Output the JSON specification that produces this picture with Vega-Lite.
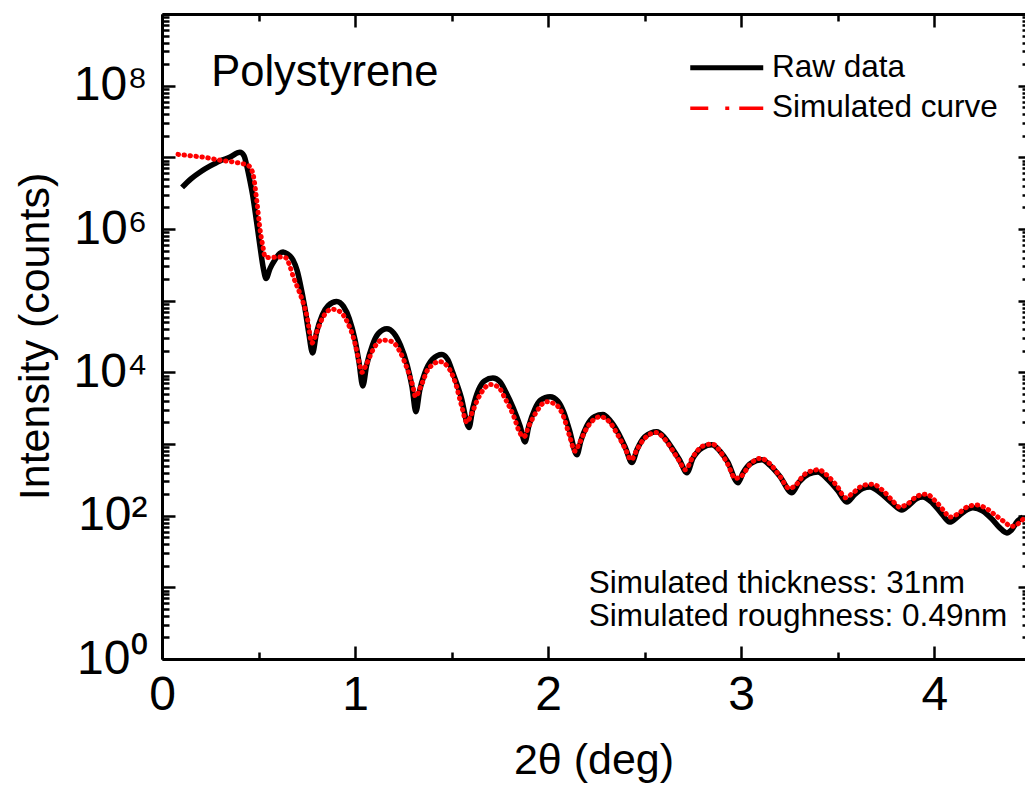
{
  "$schema": "https://vega.github.io/schema/vega-lite/v6.json",
  "width": 863,
  "height": 645,
  "autosize": {"type": "none"},
  "padding": {"left": 162, "top": 14, "right": 0, "bottom": 126},
  "background": "#ffffff",
  "config": {"font": "Liberation Sans", "view": {"stroke": null}},
  "datasets": {
    "curves": [
      {"series": "Raw data", "two_theta": 0.104, "intensity": 3800000},
      {"series": "Raw data", "two_theta": 0.15, "intensity": 5010000},
      {"series": "Raw data", "two_theta": 0.2, "intensity": 6310000},
      {"series": "Raw data", "two_theta": 0.25, "intensity": 7590000},
      {"series": "Raw data", "two_theta": 0.3, "intensity": 8910000},
      {"series": "Raw data", "two_theta": 0.35, "intensity": 10000000},
      {"series": "Raw data", "two_theta": 0.404, "intensity": 11750000},
      {"series": "Raw data", "two_theta": 0.425, "intensity": 10470000},
      {"series": "Raw data", "two_theta": 0.44, "intensity": 7410000},
      {"series": "Raw data", "two_theta": 0.455, "intensity": 4790000},
      {"series": "Raw data", "two_theta": 0.471, "intensity": 2820000},
      {"series": "Raw data", "two_theta": 0.49, "intensity": 1260000},
      {"series": "Raw data", "two_theta": 0.508, "intensity": 562000},
      {"series": "Raw data", "two_theta": 0.525, "intensity": 282000},
      {"series": "Raw data", "two_theta": 0.539, "intensity": 204000},
      {"series": "Raw data", "two_theta": 0.56, "intensity": 282000},
      {"series": "Raw data", "two_theta": 0.585, "intensity": 372000},
      {"series": "Raw data", "two_theta": 0.61, "intensity": 457000},
      {"series": "Raw data", "two_theta": 0.627, "intensity": 479000},
      {"series": "Raw data", "two_theta": 0.65, "intensity": 447000},
      {"series": "Raw data", "two_theta": 0.678, "intensity": 372000},
      {"series": "Raw data", "two_theta": 0.7, "intensity": 263000},
      {"series": "Raw data", "two_theta": 0.715, "intensity": 178000},
      {"series": "Raw data", "two_theta": 0.74, "intensity": 79400},
      {"series": "Raw data", "two_theta": 0.76, "intensity": 35500},
      {"series": "Raw data", "two_theta": 0.78, "intensity": 18600},
      {"series": "Raw data", "two_theta": 0.8, "intensity": 35500},
      {"series": "Raw data", "two_theta": 0.83, "intensity": 63100},
      {"series": "Raw data", "two_theta": 0.86, "intensity": 85100},
      {"series": "Raw data", "two_theta": 0.905, "intensity": 97700},
      {"series": "Raw data", "two_theta": 0.94, "intensity": 83200},
      {"series": "Raw data", "two_theta": 0.97, "intensity": 56200},
      {"series": "Raw data", "two_theta": 1.0, "intensity": 28200},
      {"series": "Raw data", "two_theta": 1.02, "intensity": 14100},
      {"series": "Raw data", "two_theta": 1.04, "intensity": 6460},
      {"series": "Raw data", "two_theta": 1.06, "intensity": 12600},
      {"series": "Raw data", "two_theta": 1.09, "intensity": 24000},
      {"series": "Raw data", "two_theta": 1.12, "intensity": 34700},
      {"series": "Raw data", "two_theta": 1.165, "intensity": 40700},
      {"series": "Raw data", "two_theta": 1.2, "intensity": 35500},
      {"series": "Raw data", "two_theta": 1.235, "intensity": 24000},
      {"series": "Raw data", "two_theta": 1.27, "intensity": 12600},
      {"series": "Raw data", "two_theta": 1.295, "intensity": 6310},
      {"series": "Raw data", "two_theta": 1.315, "intensity": 2820},
      {"series": "Raw data", "two_theta": 1.335, "intensity": 5620},
      {"series": "Raw data", "two_theta": 1.36, "intensity": 9550},
      {"series": "Raw data", "two_theta": 1.4, "intensity": 15100},
      {"series": "Raw data", "two_theta": 1.45, "intensity": 17800},
      {"series": "Raw data", "two_theta": 1.48, "intensity": 15100},
      {"series": "Raw data", "two_theta": 1.507, "intensity": 9770},
      {"series": "Raw data", "two_theta": 1.55, "intensity": 4470},
      {"series": "Raw data", "two_theta": 1.59, "intensity": 1700},
      {"series": "Raw data", "two_theta": 1.61, "intensity": 3160},
      {"series": "Raw data", "two_theta": 1.64, "intensity": 5750},
      {"series": "Raw data", "two_theta": 1.67, "intensity": 7590},
      {"series": "Raw data", "two_theta": 1.714, "intensity": 8320},
      {"series": "Raw data", "two_theta": 1.75, "intensity": 7410},
      {"series": "Raw data", "two_theta": 1.78, "intensity": 5370},
      {"series": "Raw data", "two_theta": 1.82, "intensity": 3160},
      {"series": "Raw data", "two_theta": 1.855, "intensity": 1780},
      {"series": "Raw data", "two_theta": 1.88, "intensity": 1070},
      {"series": "Raw data", "two_theta": 1.9, "intensity": 1780},
      {"series": "Raw data", "two_theta": 1.93, "intensity": 3020},
      {"series": "Raw data", "two_theta": 1.96, "intensity": 4070},
      {"series": "Raw data", "two_theta": 2.01, "intensity": 4570},
      {"series": "Raw data", "two_theta": 2.05, "intensity": 3980},
      {"series": "Raw data", "two_theta": 2.08, "intensity": 2820},
      {"series": "Raw data", "two_theta": 2.11, "intensity": 1580},
      {"series": "Raw data", "two_theta": 2.149, "intensity": 708},
      {"series": "Raw data", "two_theta": 2.17, "intensity": 1120},
      {"series": "Raw data", "two_theta": 2.2, "intensity": 1780},
      {"series": "Raw data", "two_theta": 2.24, "intensity": 2400},
      {"series": "Raw data", "two_theta": 2.284, "intensity": 2570},
      {"series": "Raw data", "two_theta": 2.32, "intensity": 2140},
      {"series": "Raw data", "two_theta": 2.36, "intensity": 1480},
      {"series": "Raw data", "two_theta": 2.4, "intensity": 891},
      {"series": "Raw data", "two_theta": 2.434, "intensity": 550},
      {"series": "Raw data", "two_theta": 2.46, "intensity": 832},
      {"series": "Raw data", "two_theta": 2.5, "intensity": 1260},
      {"series": "Raw data", "two_theta": 2.563, "intensity": 1480},
      {"series": "Raw data", "two_theta": 2.6, "intensity": 1260},
      {"series": "Raw data", "two_theta": 2.64, "intensity": 891},
      {"series": "Raw data", "two_theta": 2.68, "intensity": 603},
      {"series": "Raw data", "two_theta": 2.719, "intensity": 398},
      {"series": "Raw data", "two_theta": 2.75, "intensity": 631},
      {"series": "Raw data", "two_theta": 2.8, "intensity": 891},
      {"series": "Raw data", "two_theta": 2.848, "intensity": 977},
      {"series": "Raw data", "two_theta": 2.89, "intensity": 794},
      {"series": "Raw data", "two_theta": 2.93, "intensity": 562},
      {"series": "Raw data", "two_theta": 2.983, "intensity": 288},
      {"series": "Raw data", "two_theta": 3.01, "intensity": 398},
      {"series": "Raw data", "two_theta": 3.05, "intensity": 537},
      {"series": "Raw data", "two_theta": 3.107, "intensity": 603},
      {"series": "Raw data", "two_theta": 3.15, "intensity": 501},
      {"series": "Raw data", "two_theta": 3.2, "intensity": 355},
      {"series": "Raw data", "two_theta": 3.263, "intensity": 209},
      {"series": "Raw data", "two_theta": 3.3, "intensity": 295},
      {"series": "Raw data", "two_theta": 3.35, "intensity": 380},
      {"series": "Raw data", "two_theta": 3.397, "intensity": 407},
      {"series": "Raw data", "two_theta": 3.45, "intensity": 316},
      {"series": "Raw data", "two_theta": 3.5, "intensity": 224},
      {"series": "Raw data", "two_theta": 3.547, "intensity": 155},
      {"series": "Raw data", "two_theta": 3.59, "intensity": 200},
      {"series": "Raw data", "two_theta": 3.63, "intensity": 240},
      {"series": "Raw data", "two_theta": 3.667, "intensity": 251},
      {"series": "Raw data", "two_theta": 3.72, "intensity": 209},
      {"series": "Raw data", "two_theta": 3.78, "intensity": 151},
      {"series": "Raw data", "two_theta": 3.832, "intensity": 120},
      {"series": "Raw data", "two_theta": 3.87, "intensity": 141},
      {"series": "Raw data", "two_theta": 3.91, "intensity": 174},
      {"series": "Raw data", "two_theta": 3.94, "intensity": 182},
      {"series": "Raw data", "two_theta": 3.99, "intensity": 151},
      {"series": "Raw data", "two_theta": 4.04, "intensity": 105},
      {"series": "Raw data", "two_theta": 4.08, "intensity": 81.3},
      {"series": "Raw data", "two_theta": 4.12, "intensity": 95.5},
      {"series": "Raw data", "two_theta": 4.16, "intensity": 117},
      {"series": "Raw data", "two_theta": 4.2, "intensity": 129},
      {"series": "Raw data", "two_theta": 4.25, "intensity": 117},
      {"series": "Raw data", "two_theta": 4.3, "intensity": 89.1},
      {"series": "Raw data", "two_theta": 4.34, "intensity": 67.6},
      {"series": "Raw data", "two_theta": 4.376, "intensity": 57.5},
      {"series": "Raw data", "two_theta": 4.4, "intensity": 63.1},
      {"series": "Raw data", "two_theta": 4.43, "intensity": 83.2},
      {"series": "Raw data", "two_theta": 4.46, "intensity": 95.5},
      {"series": "Simulated curve", "two_theta": 0.083, "intensity": 11000000},
      {"series": "Simulated curve", "two_theta": 0.15, "intensity": 10500000},
      {"series": "Simulated curve", "two_theta": 0.22, "intensity": 10000000},
      {"series": "Simulated curve", "two_theta": 0.3, "intensity": 9120000},
      {"series": "Simulated curve", "two_theta": 0.38, "intensity": 8510000},
      {"series": "Simulated curve", "two_theta": 0.45, "intensity": 7590000},
      {"series": "Simulated curve", "two_theta": 0.472, "intensity": 5750000},
      {"series": "Simulated curve", "two_theta": 0.492, "intensity": 2340000},
      {"series": "Simulated curve", "two_theta": 0.508, "intensity": 977000},
      {"series": "Simulated curve", "two_theta": 0.523, "intensity": 562000},
      {"series": "Simulated curve", "two_theta": 0.534, "intensity": 407000},
      {"series": "Simulated curve", "two_theta": 0.56, "intensity": 398000},
      {"series": "Simulated curve", "two_theta": 0.6, "intensity": 407000},
      {"series": "Simulated curve", "two_theta": 0.64, "intensity": 398000},
      {"series": "Simulated curve", "two_theta": 0.66, "intensity": 316000},
      {"series": "Simulated curve", "two_theta": 0.679, "intensity": 219000},
      {"series": "Simulated curve", "two_theta": 0.7, "intensity": 158000},
      {"series": "Simulated curve", "two_theta": 0.725, "intensity": 105000},
      {"series": "Simulated curve", "two_theta": 0.751, "intensity": 60300},
      {"series": "Simulated curve", "two_theta": 0.777, "intensity": 25700},
      {"series": "Simulated curve", "two_theta": 0.8, "intensity": 35500},
      {"series": "Simulated curve", "two_theta": 0.83, "intensity": 56200},
      {"series": "Simulated curve", "two_theta": 0.88, "intensity": 75900},
      {"series": "Simulated curve", "two_theta": 0.92, "intensity": 70800},
      {"series": "Simulated curve", "two_theta": 0.96, "intensity": 50100},
      {"series": "Simulated curve", "two_theta": 1.0, "intensity": 25100},
      {"series": "Simulated curve", "two_theta": 1.02, "intensity": 14100},
      {"series": "Simulated curve", "two_theta": 1.036, "intensity": 10000},
      {"series": "Simulated curve", "two_theta": 1.06, "intensity": 13200},
      {"series": "Simulated curve", "two_theta": 1.1, "intensity": 22400},
      {"series": "Simulated curve", "two_theta": 1.14, "intensity": 28200},
      {"series": "Simulated curve", "two_theta": 1.19, "intensity": 26900},
      {"series": "Simulated curve", "two_theta": 1.23, "intensity": 20000},
      {"series": "Simulated curve", "two_theta": 1.27, "intensity": 11200},
      {"series": "Simulated curve", "two_theta": 1.3, "intensity": 6310},
      {"series": "Simulated curve", "two_theta": 1.313, "intensity": 4570},
      {"series": "Simulated curve", "two_theta": 1.34, "intensity": 6310},
      {"series": "Simulated curve", "two_theta": 1.38, "intensity": 11200},
      {"series": "Simulated curve", "two_theta": 1.44, "intensity": 14100},
      {"series": "Simulated curve", "two_theta": 1.48, "intensity": 12000},
      {"series": "Simulated curve", "two_theta": 1.52, "intensity": 7080},
      {"series": "Simulated curve", "two_theta": 1.55, "intensity": 3550},
      {"series": "Simulated curve", "two_theta": 1.58, "intensity": 2000},
      {"series": "Simulated curve", "two_theta": 1.6, "intensity": 2510},
      {"series": "Simulated curve", "two_theta": 1.64, "intensity": 4470},
      {"series": "Simulated curve", "two_theta": 1.7, "intensity": 6760},
      {"series": "Simulated curve", "two_theta": 1.74, "intensity": 6310},
      {"series": "Simulated curve", "two_theta": 1.78, "intensity": 4170},
      {"series": "Simulated curve", "two_theta": 1.82, "intensity": 2510},
      {"series": "Simulated curve", "two_theta": 1.855, "intensity": 1410},
      {"series": "Simulated curve", "two_theta": 1.875, "intensity": 1260},
      {"series": "Simulated curve", "two_theta": 1.9, "intensity": 1780},
      {"series": "Simulated curve", "two_theta": 1.94, "intensity": 2820},
      {"series": "Simulated curve", "two_theta": 1.99, "intensity": 3890},
      {"series": "Simulated curve", "two_theta": 2.04, "intensity": 3550},
      {"series": "Simulated curve", "two_theta": 2.08, "intensity": 2400},
      {"series": "Simulated curve", "two_theta": 2.11, "intensity": 1320},
      {"series": "Simulated curve", "two_theta": 2.14, "intensity": 794},
      {"series": "Simulated curve", "two_theta": 2.16, "intensity": 1000},
      {"series": "Simulated curve", "two_theta": 2.2, "intensity": 1660},
      {"series": "Simulated curve", "two_theta": 2.27, "intensity": 2400},
      {"series": "Simulated curve", "two_theta": 2.32, "intensity": 2000},
      {"series": "Simulated curve", "two_theta": 2.36, "intensity": 1350},
      {"series": "Simulated curve", "two_theta": 2.4, "intensity": 851},
      {"series": "Simulated curve", "two_theta": 2.43, "intensity": 603},
      {"series": "Simulated curve", "two_theta": 2.46, "intensity": 832},
      {"series": "Simulated curve", "two_theta": 2.5, "intensity": 1200},
      {"series": "Simulated curve", "two_theta": 2.56, "intensity": 1450},
      {"series": "Simulated curve", "two_theta": 2.6, "intensity": 1200},
      {"series": "Simulated curve", "two_theta": 2.64, "intensity": 851},
      {"series": "Simulated curve", "two_theta": 2.68, "intensity": 575},
      {"series": "Simulated curve", "two_theta": 2.71, "intensity": 437},
      {"series": "Simulated curve", "two_theta": 2.75, "intensity": 661},
      {"series": "Simulated curve", "two_theta": 2.8, "intensity": 933},
      {"series": "Simulated curve", "two_theta": 2.85, "intensity": 1000},
      {"series": "Simulated curve", "two_theta": 2.89, "intensity": 794},
      {"series": "Simulated curve", "two_theta": 2.93, "intensity": 525},
      {"series": "Simulated curve", "two_theta": 2.97, "intensity": 331},
      {"series": "Simulated curve", "two_theta": 3.0, "intensity": 355},
      {"series": "Simulated curve", "two_theta": 3.05, "intensity": 537},
      {"series": "Simulated curve", "two_theta": 3.1, "intensity": 631},
      {"series": "Simulated curve", "two_theta": 3.15, "intensity": 525},
      {"series": "Simulated curve", "two_theta": 3.2, "intensity": 355},
      {"series": "Simulated curve", "two_theta": 3.25, "intensity": 240},
      {"series": "Simulated curve", "two_theta": 3.28, "intensity": 263},
      {"series": "Simulated curve", "two_theta": 3.33, "intensity": 380},
      {"series": "Simulated curve", "two_theta": 3.4, "intensity": 437},
      {"series": "Simulated curve", "two_theta": 3.45, "intensity": 355},
      {"series": "Simulated curve", "two_theta": 3.5, "intensity": 251},
      {"series": "Simulated curve", "two_theta": 3.54, "intensity": 178},
      {"series": "Simulated curve", "two_theta": 3.58, "intensity": 209},
      {"series": "Simulated curve", "two_theta": 3.63, "intensity": 263},
      {"series": "Simulated curve", "two_theta": 3.68, "intensity": 275},
      {"series": "Simulated curve", "two_theta": 3.73, "intensity": 229},
      {"series": "Simulated curve", "two_theta": 3.78, "intensity": 166},
      {"series": "Simulated curve", "two_theta": 3.82, "intensity": 132},
      {"series": "Simulated curve", "two_theta": 3.86, "intensity": 145},
      {"series": "Simulated curve", "two_theta": 3.91, "intensity": 186},
      {"series": "Simulated curve", "two_theta": 3.96, "intensity": 200},
      {"series": "Simulated curve", "two_theta": 4.0, "intensity": 166},
      {"series": "Simulated curve", "two_theta": 4.05, "intensity": 117},
      {"series": "Simulated curve", "two_theta": 4.08, "intensity": 95.5},
      {"series": "Simulated curve", "two_theta": 4.12, "intensity": 105},
      {"series": "Simulated curve", "two_theta": 4.17, "intensity": 132},
      {"series": "Simulated curve", "two_theta": 4.22, "intensity": 141},
      {"series": "Simulated curve", "two_theta": 4.27, "intensity": 126},
      {"series": "Simulated curve", "two_theta": 4.32, "intensity": 100},
      {"series": "Simulated curve", "two_theta": 4.36, "intensity": 83.2},
      {"series": "Simulated curve", "two_theta": 4.4, "intensity": 70.8},
      {"series": "Simulated curve", "two_theta": 4.43, "intensity": 75.9},
      {"series": "Simulated curve", "two_theta": 4.46, "intensity": 89.1}
    ],
    "notes": [
      {"text": "Polystyrene", "two_theta": 0.255, "intensity": 98000000, "size": 43.5},
      {"text": "Simulated thickness: 31nm", "two_theta": 2.21, "intensity": 8.3, "size": 31.5},
      {"text": "Simulated roughness: 0.49nm", "two_theta": 2.21, "intensity": 2.9, "size": 31.5}
    ]
  },
  "layer": [
    {
      "data": {"name": "curves"},
      "transform": [{"filter": "datum.series === 'Raw data'"}],
      "mark": {"type": "line", "strokeWidth": 5.5, "interpolate": "monotone", "clip": true, "strokeJoin": "round"},
      "encoding": {
        "x": {
          "field": "two_theta", "type": "quantitative",
          "scale": {"domain": [0, 4.47], "nice": false, "zero": false},
          "axis": {
            "orient": "bottom", "title": "2θ (deg)",
            "values": [0, 0.5, 1, 1.5, 2, 2.5, 3, 3.5, 4],
            "tickCount": 200,
            "tickSize": {"condition": {"test": "datum.value % 1 === 0", "value": -13}, "value": -7},
            "tickWidth": 2.5, "tickColor": "#000000",
            "domainColor": "#000000", "domainWidth": 3,
            "labelExpr": "datum.value % 1 === 0 ? format(datum.value, 'd') : ''",
            "labelFontSize": 48, "labelColor": "#000000", "labelPadding": 25,
            "labelFlush": false, "labelOverlap": false, "grid": false,
            "titleFontSize": 43, "titleFontWeight": "normal", "titleColor": "#000000",
            "titleBaseline": "alphabetic", "titleY": 114
          }
        },
        "y": {
          "field": "intensity", "type": "quantitative",
          "scale": {"type": "log", "domain": [1, 1000000000], "nice": false},
          "axis": {
            "orient": "left", "title": "Intensity (counts)",
            "values": [1,2,3,4,5,6,7,8,9,10,20,30,40,50,60,70,80,90,100,200,300,400,500,600,700,800,900,1000,2000,3000,4000,5000,6000,7000,8000,9000,10000,20000,30000,40000,50000,60000,70000,80000,90000,100000,200000,300000,400000,500000,600000,700000,800000,900000,1000000,2000000,3000000,4000000,5000000,6000000,7000000,8000000,9000000,10000000,20000000,30000000,40000000,50000000,60000000,70000000,80000000,90000000,100000000,200000000,300000000,400000000,500000000,600000000,700000000,800000000,900000000,1000000000],
            "tickCount": 200,
            "tickSize": -13,
            "tickDash": {"condition": {"test": "indexof([1,10,100,1000,10000,100000,1000000,10000000,100000000,1000000000], datum.value) >= 0", "value": [20, 0]}, "value": [7, 40]},
            "tickWidth": 2.5, "tickColor": "#000000",
            "domainColor": "#000000", "domainWidth": 3,
            "labelExpr": "datum.value == 1 ? '10⁰' : datum.value == 100 ? '10²' : datum.value == 10000 ? '10⁴' : datum.value == 1000000 ? '10⁶' : datum.value == 100000000 ? '10⁸' : ''",
            "labelFontSize": 48, "labelColor": "#000000", "labelPadding": 28,
            "labelBaseline": "middle", "labelFlush": false, "labelOverlap": false, "grid": false,
            "titleFontSize": 43, "titleFontWeight": "normal", "titleColor": "#000000",
            "titleAngle": -90, "titleBaseline": "middle", "titleAlign": "center",
            "titleX": -127, "titleY": 322
          }
        },
        "color": {
          "field": "series", "type": "nominal",
          "scale": {"domain": ["Raw data", "Simulated curve"], "range": ["#000000", "#ff0000"]},
          "legend": {
            "title": null, "orient": "none", "legendX": 549, "legendY": 38,
            "symbolType": "M-3,0H3", "symbolSize": 592, "symbolStrokeWidth": 5,
            "rowPadding": 7.5, "padding": 0,
            "labelFontSize": 31.5, "labelColor": "#000000", "labelOffset": 29.5, "labelLimit": 400,
            "encode": {
              "symbols": {
                "update": {
                  "strokeDash": {"signal": "datum.value === 'Simulated curve' ? [18, 17, 4, 10, 30, 10] : [1, 0]"},
                  "strokeWidth": {"signal": "datum.value === 'Simulated curve' ? 3.5 : 5"}
                }
              }
            }
          }
        }
      }
    },
    {
      "data": {"name": "curves"},
      "transform": [{"filter": "datum.series === 'Simulated curve'"}],
      "mark": {"type": "line", "color": "#ff0000", "strokeWidth": 5, "interpolate": "monotone", "clip": true, "strokeCap": "round", "strokeDash": [0.5, 5.5]},
      "encoding": {
        "x": {
          "field": "two_theta", "type": "quantitative",
          "axis": {
            "orient": "top", "title": null, "labels": false,
            "values": [0, 0.5, 1, 1.5, 2, 2.5, 3, 3.5, 4],
            "tickCount": 200,
            "tickSize": {"condition": {"test": "datum.value % 1 === 0", "value": -13}, "value": -7},
            "tickWidth": 2.5, "tickColor": "#000000",
            "domainColor": "#000000", "domainWidth": 3, "grid": false
          }
        },
        "y": {"field": "intensity", "type": "quantitative", "axis": null}
      }
    },
    {
      "data": {"name": "notes"},
      "mark": {"type": "text", "align": "left", "baseline": "alphabetic", "color": "#000000", "font": "Liberation Sans"},
      "encoding": {
        "x": {"field": "two_theta", "type": "quantitative", "axis": null},
        "y": {
          "field": "intensity", "type": "quantitative",
          "axis": {
            "orient": "right", "title": null, "labels": false, "grid": false,
            "values": [1,2,3,4,5,6,7,8,9,10,20,30,40,50,60,70,80,90,100,200,300,400,500,600,700,800,900,1000,2000,3000,4000,5000,6000,7000,8000,9000,10000,20000,30000,40000,50000,60000,70000,80000,90000,100000,200000,300000,400000,500000,600000,700000,800000,900000,1000000,2000000,3000000,4000000,5000000,6000000,7000000,8000000,9000000,10000000,20000000,30000000,40000000,50000000,60000000,70000000,80000000,90000000,100000000,200000000,300000000,400000000,500000000,600000000,700000000,800000000,900000000,1000000000],
            "tickCount": 200,
            "tickSize": -7,
            "tickDash": {"condition": {"test": "indexof([1,10,100,1000,10000,100000,1000000,10000000,100000000,1000000000], datum.value) >= 0", "value": [20, 0]}, "value": [3, 40]},
            "tickWidth": 2.5, "tickColor": "#000000",
            "domainOpacity": 0
          }
        },
        "text": {"field": "text"},
        "size": {"field": "size", "type": "quantitative", "scale": null, "legend": null}
      }
    }
  ],
  "resolve": {"axis": {"x": "independent", "y": "independent"}}
}
